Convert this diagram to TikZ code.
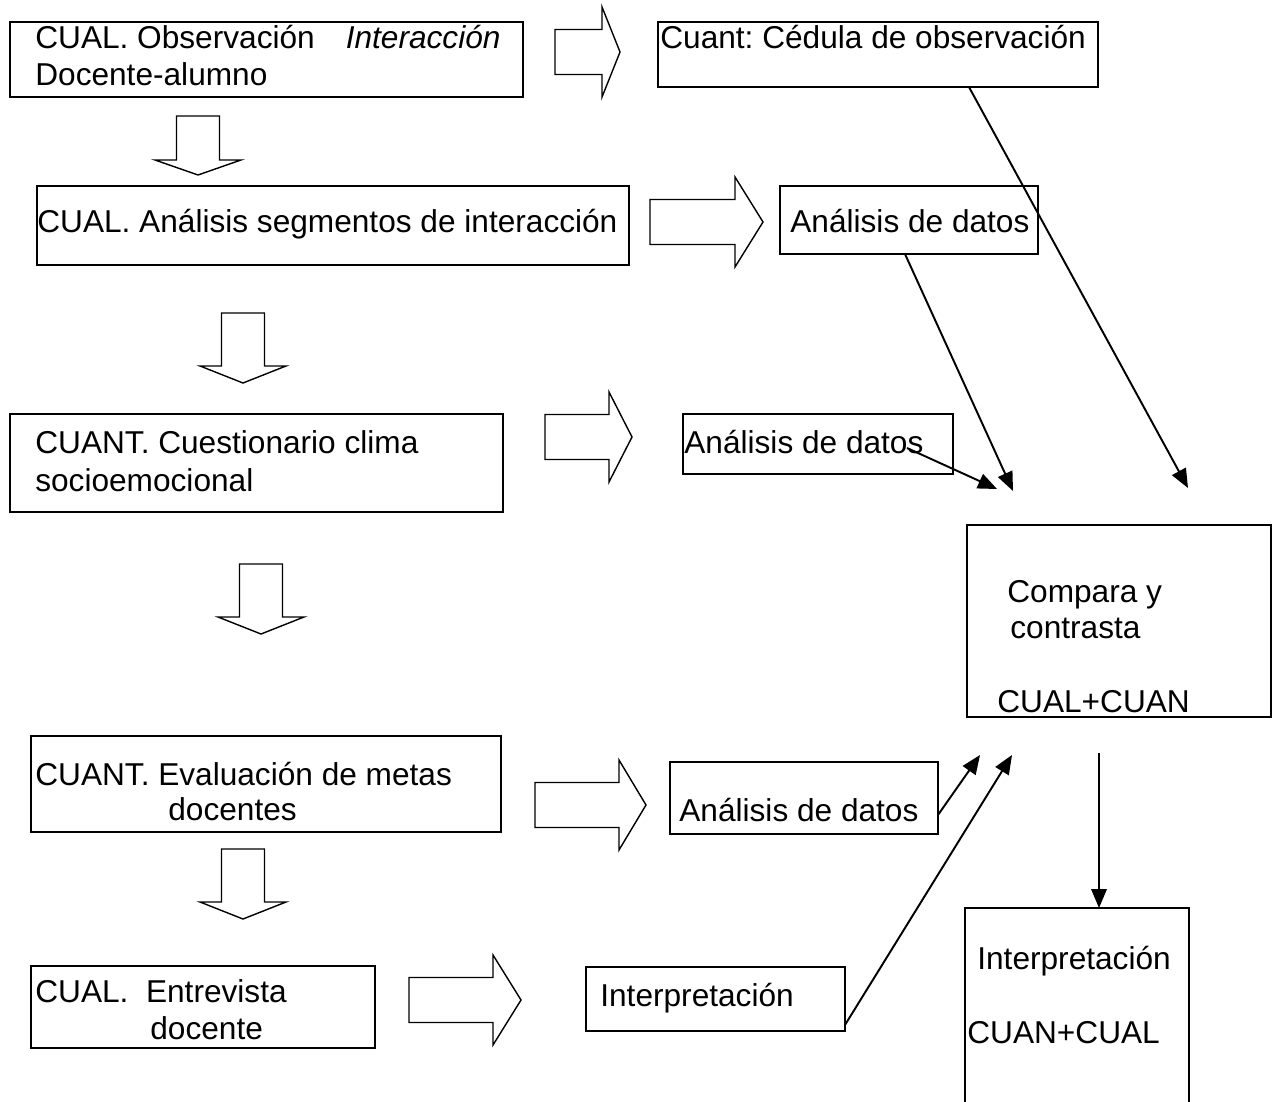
\documentclass[tikz,border=0pt]{standalone}
\usepackage{fontspec}
\setmainfont{Liberation Sans}
\frenchspacing
\usetikzlibrary{arrows.meta, calc}
\tikzset{
  box/.style={rectangle, draw, line width=1pt, inner sep=0pt, outer sep=0pt,
              anchor=north west},
  txt/.style={inner sep=0pt, anchor=base west,
              font=\fontsize{18}{21}\selectfont},
  blk/.style={draw, line width=0.8pt},
  link/.style={-{Triangle[length=0.38cm, width=0.31cm]}, line width=1.1pt},
  pics/rblk/.style 2 args={code={
    \draw[blk] (0,-22.5) -- ({#1-#2},-22.5) -- ({#1-#2},-45) -- (#1,0)
      -- ({#1-#2},45) -- ({#1-#2},22.5) -- (0,22.5) -- cycle;}},
  pics/dblk/.style 2 args={code={
    \draw[blk] (-21.5,0) -- (-21.5,{#1-#2}) -- (-43,{#1-#2}) -- (0,#1)
      -- (43,{#1-#2}) -- (21.5,{#1-#2}) -- (21.5,0) -- cycle;}},
}
\begin{document}
\begin{tikzpicture}[x=0.02cm, y=-0.02cm]
  \useasboundingbox (0,0) rectangle (1273,1101);
  \clip (0,0) rectangle (1273,1101);

  % left column
  \node[box, minimum width=10.26cm, minimum height=1.5cm] (obs) at (10,22) {};
  \node[txt] (obs-l1) at (35,49) {CUAL. Observación\hspace{0.62cm}\textit{Interacción}};
  \node[txt] (obs-l2) at (35,86) {Docente-alumno};
  \node[box, minimum width=11.84cm, minimum height=1.58cm] (seg) at (37,186) {};
  \node[txt] (seg-l1) at (37,233) {CUAL. Análisis segmentos de interacción};
  \node[box, minimum width=9.86cm, minimum height=1.96cm] (clima) at (10,414) {};
  \node[txt] (clima-l1) at (35,453) {CUANT. Cuestionario clima};
  \node[txt] (clima-l2) at (35,491) {socioemocional};
  \node[box, minimum width=9.4cm, minimum height=1.92cm] (metas) at (31,736) {};
  \node[txt] (metas-l1) at (35,785) {CUANT. Evaluación de metas};
  \node[txt] (metas-l2) at (168,820) {docentes};
  \node[box, minimum width=6.88cm, minimum height=1.64cm] (entr) at (31,966) {};
  \node[txt] (entr-l1) at (35,1002) {CUAL.\ \ Entrevista};
  \node[txt] (entr-l2) at (150,1039) {docente};

  % middle column
  \node[box, minimum width=8.8cm, minimum height=1.3cm] (ced) at (658,22) {};
  \node[txt] (ced-l1) at (660,49) {Cuant: Cédula de observación};
  \node[box, minimum width=5.16cm, minimum height=1.36cm] (dat1) at (780,186) {};
  \node[txt] (dat1-l1) at (790,233) {Análisis de datos};
  \node[box, minimum width=5.4cm, minimum height=1.2cm] (dat2) at (683,414) {};
  \node[txt] (dat2-l1) at (684,453) {Análisis de datos};
  \node[box, minimum width=5.36cm, minimum height=1.44cm] (dat3) at (670,762) {};
  \node[txt] (dat3-l1) at (679,821) {Análisis de datos};
  \node[box, minimum width=5.18cm, minimum height=1.28cm] (interp) at (586,967) {};
  \node[txt] (interp-l1) at (600,1006) {Interpretación};

  % right column
  \node[box, minimum width=6.08cm, minimum height=3.84cm] (comp) at (967,525) {};
  \node[txt] (comp-l1) at (1007,602) {Compara y};
  \node[txt] (comp-l2) at (1010,638) {contrasta};
  \node[txt] (comp-l3) at (997,712) {CUAL+CUAN};
  \node[box, minimum width=4.48cm, minimum height=4.24cm] (fin) at (965,908) {};
  \node[txt] (fin-l1) at (977,969) {Interpretación};
  \node[txt] (fin-l2) at (967,1043) {CUAN+CUAL};

  % block arrows
  \pic at (198,116) {dblk={59}{15}};
  \pic at (243,313) {dblk={70}{17}};
  \pic at (261,564) {dblk={70}{17}};
  \pic at (243,849) {dblk={70}{17}};
  \pic at (555,52) {rblk={65}{18}};
  \pic at (650,222) {rblk={113}{28}};
  \pic at (545,437) {rblk={87}{23}};
  \pic at (535,805) {rblk={111}{27}};
  \pic at (409,1000) {rblk={112}{28}};

  % thin arrows
  \coordinate (in0) at (1188,488);
  \coordinate (in1) at (1013,491);
  \coordinate (in2) at (997,489);
  \coordinate (in3) at (980,755);
  \coordinate (in4) at (1012,755);
  \coordinate (out) at (1099,753);
  \draw[link] ($(ced.south)+(91,0)$) -- (in0);
  \draw[link] ($(dat1.south)+(-4,0)$) -- (in1);
  \draw[link] ($(dat2.center)+(89,4)$) -- (in2);
  \draw[link] ($(dat3.east)+(0,17)$) -- (in3);
  \draw[link] ($(interp.south east)+(0,-6)$) -- (in4);
  \draw[link] (out) -- (out |- fin.north);
\end{tikzpicture}
\end{document}
